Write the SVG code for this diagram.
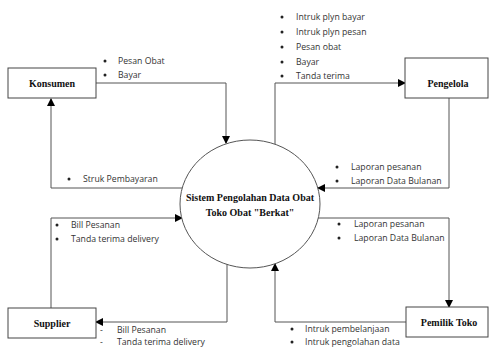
<svg xmlns="http://www.w3.org/2000/svg" width="489" height="349" viewBox="0 0 489 349">
<style>
.box{fill:#fff;stroke:#444;stroke-width:1}
.node{font-family:"Liberation Serif",serif;font-weight:bold;font-size:10px;fill:#111;text-anchor:middle}
.lbl{font-family:"Open Sans","Liberation Sans",sans-serif;font-size:8.7px;fill:#333}
.bul{fill:#222}
.ln{fill:none;stroke:#555;stroke-width:1}
</style>
<defs>
<marker id="ah" markerWidth="8" markerHeight="8" refX="7" refY="4" orient="auto" markerUnits="userSpaceOnUse">
<path d="M0,0 L8,4 L0,8 Z" fill="#000"/>
</marker>
</defs>
<rect width="489" height="349" fill="#fff"/>
<g id="connectors">
<polyline class="ln" points="96,83 226,83 226,143" marker-end="url(#ah)"/>
<polyline class="ln" points="182,188 51,188 51,99" marker-end="url(#ah)"/>
<polyline class="ln" points="275,144 275,83 405,83" marker-end="url(#ah)"/>
<polyline class="ln" points="449,98 449,188 318,188" marker-end="url(#ah)"/>
<polyline class="ln" points="318,218 449,218 449,307" marker-end="url(#ah)"/>
<polyline class="ln" points="406,322 275,322 275,264" marker-end="url(#ah)"/>
<polyline class="ln" points="51,308 51,218 182,218" marker-end="url(#ah)"/>
<polyline class="ln" points="227,264 227,322 96,322" marker-end="url(#ah)"/>
</g>
<g id="konsumen"><rect class="box" x="8" y="68" width="88" height="30"/><text class="node" x="52" y="87">Konsumen</text></g>
<g id="pengelola"><rect class="box" x="405" y="58" width="83" height="40"/><text class="node" x="448" y="87">Pengelola</text></g>
<g id="supplier"><rect class="box" x="8" y="308" width="88" height="30"/><text class="node" x="52" y="327">Supplier</text></g>
<g id="pemilik"><rect class="box" x="406" y="307" width="82" height="30"/><text class="node" x="449" y="326">Pemilik Toko</text></g>
<g id="sistem"><ellipse cx="250" cy="204" rx="70" ry="64" fill="#fff" stroke="#555" stroke-width="1"/>
<text class="node" x="250" y="201">Sistem Pengolahan Data Obat</text>
<text class="node" x="250" y="216">Toko Obat "Berkat"</text></g>
<g id="labels">
<circle class="bul" cx="105" cy="61" r="1.5"/><text class="lbl" x="118" y="64">Pesan Obat</text>
<circle class="bul" cx="105" cy="75" r="1.5"/><text class="lbl" x="118" y="78">Bayar</text>
<circle class="bul" cx="282" cy="17" r="1.5"/><text class="lbl" x="296" y="20">Intruk plyn bayar</text>
<circle class="bul" cx="282" cy="32" r="1.5"/><text class="lbl" x="296" y="35">Intruk plyn pesan</text>
<circle class="bul" cx="282" cy="47" r="1.5"/><text class="lbl" x="296" y="50">Pesan obat</text>
<circle class="bul" cx="282" cy="62" r="1.5"/><text class="lbl" x="296" y="65">Bayar</text>
<circle class="bul" cx="282" cy="76" r="1.5"/><text class="lbl" x="296" y="79">Tanda terima</text>
<circle class="bul" cx="69" cy="179" r="1.5"/><text class="lbl" x="83" y="182">Struk Pembayaran</text>
<circle class="bul" cx="57" cy="225" r="1.5"/><text class="lbl" x="71" y="228">Bill Pesanan</text>
<circle class="bul" cx="57" cy="239" r="1.5"/><text class="lbl" x="71" y="242">Tanda terima delivery</text>
<circle class="bul" cx="337" cy="167" r="1.5"/><text class="lbl" x="351" y="170">Laporan pesanan</text>
<circle class="bul" cx="337" cy="181" r="1.5"/><text class="lbl" x="351" y="184">Laporan Data Bulanan</text>
<circle class="bul" cx="339" cy="224" r="1.5"/><text class="lbl" x="354" y="227">Laporan pesanan</text>
<circle class="bul" cx="339" cy="238" r="1.5"/><text class="lbl" x="354" y="241">Laporan Data Bulanan</text>
<text class="lbl" x="100" y="333">-</text><text class="lbl" x="117" y="333">Bill Pesanan</text>
<text class="lbl" x="100" y="345">-</text><text class="lbl" x="117" y="345">Tanda terima delivery</text>
<circle class="bul" cx="292" cy="329" r="1.5"/><text class="lbl" x="305" y="332">Intruk pembelanjaan</text>
<circle class="bul" cx="292" cy="342" r="1.5"/><text class="lbl" x="305" y="345">Intruk pengolahan data</text>
</g>
</svg>
